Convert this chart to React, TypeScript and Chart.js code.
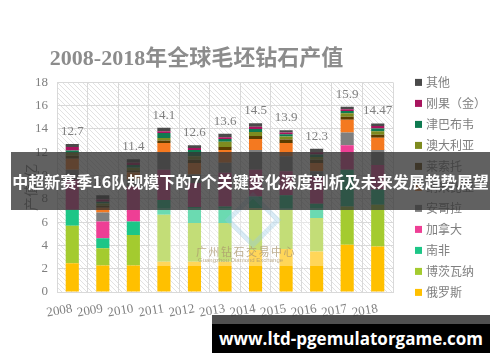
import { useEffect, useRef } from "react";
import { Chart, registerables } from "chart.js";
Chart.register(...registerables);

const years = ["2008", "2009", "2010", "2011", "2012", "2013", "2014", "2015", "2016", "2017", "2018"];
const russia = [2.47, 2.27, 2.27, 2.6, 2.6, 2.6, 3.6, 3.7, 3.47, 4.05, 3.9];
const botswana = [3.21, 1.49, 2.63, 4.03, 3.32, 3.32, 3.6, 3.36, 2.88, 3.3, 3.6];
const southAfrica = [1.38, 0.86, 1.16, 1.27, 1.38, 1.43, 1.0, 1.24, 1.23, 3.15, 1.3];
const canada = [2.6, 1.44, 3.0, 2.6, 2.06, 2.9, 2.3, 2.06, 2.35, 2.1, 2.1];
const angola = [0.84, 0.77, 0.6, 1.47, 0.72, 0.85, 1.7, 1.29, 0.43, 1.1, 1.3];
const namibia = [0.95, 0.4, 0.6, 0.83, 1.0, 1.1, 0.95, 1.15, 0.72, 1.1, 1.05];
const lesotho = [0.25, 0.17, 0.2, 0.2, 0.27, 0.25, 0.25, 0.3, 0.27, 0.25, 0.25];
const australia = [0.25, 0.2, 0.2, 0.22, 0.3, 0.45, 0.35, 0.25, 0.25, 0.3, 0.3];
const zimbabwe = [0.2, 0.15, 0.25, 0.44, 0.55, 0.25, 0.25, 0.2, 0.2, 0.2, 0.25];
const congo = [0.3, 0.2, 0.2, 0.14, 0.17, 0.15, 0.2, 0.15, 0.2, 0.15, 0.2];
const others = [0.25, 0.35, 0.29, 0.3, 0.23, 0.3, 0.3, 0.2, 0.3, 0.2, 0.22];
const totalLabels = ["12.7", "8.3", "11.4", "14.1", "12.6", "13.6", "14.5", "13.9", "12.3", "15.9", "14.47"];

const seriesNames = ["俄罗斯", "博茨瓦纳", "南非", "加拿大", "安哥拉", "纳米比亚", "莱索托", "澳大利亚", "津巴布韦", "刚果（金）", "其他"];
const seriesValues = [russia, botswana, southAfrica, canada, angola, namibia, lesotho, australia, zimbabwe, congo, others];
const seriesColors = ["#FFC000", "#A4CB2F", "#1DC687", "#EE3F95", "#7F7F7F", "#F47920", "#5A3D00", "#7E8B1F", "#0E7A50", "#A8145E", "#4A4A4A"];

const titleText = "2008-2018年全球毛坯钻石产值";
const yTitle = "产值/亿";
const bannerText = "中超新赛季16队规模下的7个关键变化深度剖析及未来发展趋势展望";
const siteText = "www.ltd-pgemulatorgame.com";

const SERIF = "'Liberation Serif', 'Noto Sans CJK SC', serif";
const CJK = "'Noto Sans CJK SC', sans-serif";

function makeHatch(): CanvasPattern | string {
  const c = document.createElement("canvas");
  c.width = 5;
  c.height = 5;
  const g = c.getContext("2d");
  if (!g) return "#fff";
  g.fillStyle = "#ffffff";
  g.fillRect(0, 0, 5, 5);
  g.strokeStyle = "#e2e2e2";
  g.lineWidth = 1;
  g.beginPath();
  g.moveTo(-1, -1);
  g.lineTo(6, 6);
  g.stroke();
  const p = g.createPattern(c, "repeat");
  return p || "#fff";
}

const bgPlugin = {
  id: "hatchBg",
  beforeDraw(chart: any) {
    const { ctx, chartArea } = chart;
    ctx.save();
    ctx.fillStyle = makeHatch();
    ctx.fillRect(chartArea.left, chartArea.top, chartArea.right - chartArea.left, chartArea.bottom - chartArea.top);
    ctx.restore();
  },
};

const totalsPlugin = {
  id: "totals",
  afterDatasetsDraw(chart: any) {
    const { ctx } = chart;
    const last = chart.getDatasetMeta(chart.data.datasets.length - 1);
    ctx.save();
    ctx.font = `13px ${SERIF}`;
    ctx.fillStyle = "#7f7f7f";
    ctx.textAlign = "center";
    ctx.textBaseline = "bottom";
    last.data.forEach((el: any, i: number) => {
      ctx.fillText(totalLabels[i], el.x, el.y - 6);
    });
    ctx.restore();
  },
};

const legendPlugin = {
  id: "sideLegend",
  afterDraw(chart: any) {
    const { ctx, chartArea } = chart;
    const ds = chart.data.datasets;
    const x0 = chartArea.right + 22;
    ctx.save();
    ctx.font = `12px ${CJK}`;
    ctx.textBaseline = "middle";
    ctx.textAlign = "left";
    for (let k = 0; k < ds.length; k++) {
      const d = ds[ds.length - 1 - k];
      const y = chartArea.top + k * 21;
      ctx.fillStyle = d.backgroundColor;
      ctx.fillRect(x0, y - 3.5, 7, 7);
      ctx.fillStyle = "#7f7f7f";
      ctx.fillText(d.label, x0 + 11, y);
    }
    ctx.restore();
  },
};

export default function App() {
  const ref = useRef<HTMLCanvasElement>(null);
  useEffect(() => {
    if (!ref.current) return;
    const chart = new Chart(ref.current, {
      type: "bar",
      data: {
        labels: years,
        datasets: seriesNames.map((name, i) => ({
          label: name,
          data: seriesValues[i],
          backgroundColor: seriesColors[i],
          borderWidth: 0,
          barPercentage: 0.43,
          categoryPercentage: 1,
        })),
      },
      options: {
        responsive: false,
        animation: false,
        layout: { padding: { left: 0, right: 107, top: 0, bottom: 40 } },
        plugins: {
          legend: { display: false },
          tooltip: { enabled: false },
          title: {
            display: true,
            text: titleText,
            color: "#8c8c8c",
            font: { size: 22, weight: "bold", family: SERIF },
            padding: { top: 46, bottom: 10 },
          },
        },
        scales: {
          x: {
            stacked: true,
            grid: { color: "#d9d9d9", drawTicks: false, offset: true },
            border: { color: "#d9d9d9" },
            ticks: {
              color: "#7f7f7f",
              font: { size: 13, family: SERIF },
              minRotation: 10,
              maxRotation: 10,
              padding: 9,
            },
            afterFit: (s: any) => {
              s.height = 30;
            },
          },
          y: {
            stacked: true,
            min: 0,
            max: 18,
            grid: { color: "#d9d9d9", drawTicks: false },
            border: { display: false },
            ticks: {
              stepSize: 2,
              color: "#7f7f7f",
              font: { size: 13, family: SERIF },
              padding: 9,
            },
            title: {
              display: true,
              text: yTitle,
              color: "#7f7f7f",
              font: { size: 14, family: CJK },
              padding: { top: 22, bottom: 0 },
            },
            afterFit: (s: any) => {
              s.width = 57;
            },
          },
        },
      },
      plugins: [bgPlugin, totalsPlugin, legendPlugin],
    });
    return () => chart.destroy();
  }, []);

  return (
    <div style={{ position: "absolute", left: 0, top: 0, width: 500, height: 362, background: "#fff", overflow: "hidden" }}>
      <canvas ref={ref} width={500} height={362} style={{ display: "block" }} />
      <div style={{ position: "absolute", left: 150, top: 208, width: 180, height: 58, background: "rgba(255,255,255,0.35)" }} />
      <div style={{ position: "absolute", left: 233, top: 200, width: 30, height: 30, border: "5px solid rgba(150,200,230,0.35)", transform: "rotate(45deg)" }} />
      <div style={{ position: "absolute", left: 196, top: 243, width: 96, fontFamily: CJK, fontSize: 11, color: "rgba(170,150,110,0.75)", letterSpacing: 1.5, whiteSpace: "nowrap" }}>广州钻石交易中心</div>
      <div style={{ position: "absolute", left: 198, top: 257, fontFamily: "'Liberation Sans', sans-serif", fontSize: 6, color: "rgba(170,150,110,0.75)", whiteSpace: "nowrap" }}>Guangzhou Diamond Exchange</div>
      <div style={{ position: "absolute", left: 11, top: 152, width: 479, height: 58, background: "rgba(52,52,52,0.78)", display: "flex", alignItems: "center", justifyContent: "center" }}>
        <span style={{ color: "#fff", fontFamily: CJK, fontWeight: 700, fontSize: 16, whiteSpace: "nowrap" }}>{bannerText}</span>
      </div>
      <div style={{ position: "absolute", left: 212, top: 315, width: 278, height: 9, background: "rgba(60,60,60,0.9)" }} />
      <div style={{ position: "absolute", left: 212, top: 324, width: 278, height: 29, background: "#000", display: "flex", alignItems: "center", justifyContent: "center" }}>
        <span style={{ color: "#fff", fontFamily: "'Open Sans', 'Noto Sans', sans-serif", fontWeight: 700, fontSize: 17, whiteSpace: "nowrap" }}>{siteText}</span>
      </div>
    </div>
  );
}
